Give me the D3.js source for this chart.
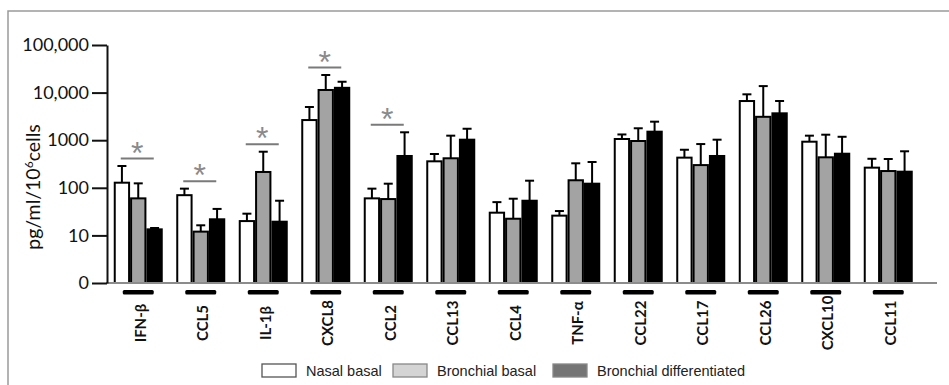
<!DOCTYPE html>
<html>
<head>
<meta charset="utf-8">
<script src="https://cdn.jsdelivr.net/npm/d3@7"></script>
<style>
    body { margin: 0; background: #fff; }
    svg { display: block; }
</style>
</head>
<body>
<div id="chart"></div>
<script>
const categories = ["IFN-β", "CCL5", "IL-1β", "CXCL8", "CCL2", "CCL13", "CCL4", "TNF-α", "CCL22", "CCL17", "CCL26", "CXCL10", "CCL11"];

// means and upper error bar ends, pg/ml/10^6 cells
const nasalBasal        = [128, 70, 20, 2650, 60, 360, 30, 26, 1060, 430, 6650, 930, 265];
const nasalBasalErr     = [287, 96, 28.6, 4980, 96, 513, 50, 32.5, 1320, 630, 9200, 1245, 407];
const bronchialBasal    = [60, 12, 215, 11350, 58, 417, 22.4, 144, 962, 300, 3100, 437, 225];
const bronchialBasalErr = [124, 16.3, 573, 23400, 122, 1245, 59, 327, 1780, 830, 13700, 1305, 403];
const bronchialDiff     = [13.4, 21.8, 19.4, 12600, 466, 1025, 53.5, 122, 1510, 466, 3670, 520, 218];
const bronchialDiffErr  = [14.3, 36, 53.5, 16900, 1466, 1740, 141, 348, 2450, 1025, 6660, 1180, 585];

const significant = ["IFN-β", "CCL5", "IL-1β", "CXCL8", "CCL2"];

const yTickValues = [1, 10, 100, 1000, 10000, 100000];
const yTickLabels = ["0", "10", "100", "1000", "10,000", "100,000"];

const seriesNames = ["Nasal basal", "Bronchial basal", "Bronchial differentiated"];

const width = 949, height = 385;
const barFills = ["#ffffff", "#a3a3a3", "#000000"];
const legendFills = ["#ffffff", "#d4d4d4", "#757575"];

const series = [
    {name: seriesNames[0], values: nasalBasal, err: nasalBasalErr},
    {name: seriesNames[1], values: bronchialBasal, err: bronchialBasalErr},
    {name: seriesNames[2], values: bronchialDiff, err: bronchialDiffErr}
];

let svg = d3.select("#chart")
    .append("svg")
    .attr("width", width)
    .attr("height", height);

// figure frame (top + left edges visible)
svg.append("path")
    .attr("d", "M8,385 L8,11 L949,11")
    .attr("fill", "none")
    .attr("stroke", "#9a9a9a")
    .attr("stroke-width", 1.5);

let x = d3.scaleBand()
    .domain(categories)
    .range([107, 919.5]);

let xSub = d3.scaleBand()
    .domain(d3.range(series.length))
    .range([-24.5, 24.5]);

let y = d3.scaleLog()
    .domain([1, 100000])
    .range([283, 45]);

// bars
categories.forEach(function (c, i) {
    let g = svg.append("g")
        .attr("transform", "translate(" + (x(c) + x.bandwidth() / 2) + ",0)");

    series.forEach(function (s, k) {
        let bx = xSub(k);
        let bw = xSub.bandwidth();
        let cx = bx + bw / 2;

        g.append("line")
            .attr("x1", cx).attr("x2", cx)
            .attr("y1", y(s.values[i])).attr("y2", y(s.err[i]))
            .attr("stroke", "#000")
            .attr("stroke-width", 2);

        g.append("line")
            .attr("x1", cx - 4.5).attr("x2", cx + 4.5)
            .attr("y1", y(s.err[i])).attr("y2", y(s.err[i]))
            .attr("stroke", "#000")
            .attr("stroke-width", 2);

        g.append("rect")
            .attr("x", bx + 1)
            .attr("y", y(s.values[i]))
            .attr("width", bw - 2)
            .attr("height", y(1) - y(s.values[i]))
            .attr("fill", barFills[k])
            .attr("stroke", "#000")
            .attr("stroke-width", 2);
    });

    // significance bracket
    if (significant.indexOf(c) >= 0) {
        let top = d3.min(series, s => y(s.err[i])) - 7.5;
        g.append("line")
            .attr("x1", -17.5).attr("x2", 15.5)
            .attr("y1", top).attr("y2", top)
            .attr("stroke", "#7a7a7a")
            .attr("stroke-width", 2);
        g.append("text")
            .attr("x", -1)
            .attr("y", top + 5)
            .attr("text-anchor", "middle")
            .attr("fill", "#8a8a8a")
            .style("font-family", "Liberation Sans, sans-serif")
            .style("font-size", "32px")
            .text("*");
    }

    // black marker under each group
    g.append("rect")
        .attr("x", -15.5)
        .attr("y", 290)
        .attr("width", 31)
        .attr("height", 4.5)
        .attr("rx", 1.5)
        .attr("fill", "#000");
});

// x baseline
svg.append("line")
    .attr("x1", 106).attr("x2", 937)
    .attr("y1", y(1)).attr("y2", y(1))
    .attr("stroke", "#8c8c8c")
    .attr("stroke-width", 2);

// y axis
let yAxis = svg.append("g")
    .attr("transform", "translate(107,0)")
    .call(d3.axisLeft(y)
        .tickValues(yTickValues)
        .tickFormat((d, i) => yTickLabels[i])
        .tickSize(15)
        .tickSizeOuter(0)
        .tickPadding(3));

yAxis.select(".domain").attr("stroke", "#111").attr("stroke-width", 2);
yAxis.selectAll(".tick line").attr("stroke", "#111").attr("stroke-width", 2);
yAxis.selectAll(".tick text")
    .attr("fill", "#111")
    .style("font-family", "Lato, sans-serif")
    .style("font-size", "18px");

// category labels
let xAxis = svg.append("g")
    .attr("transform", "translate(0," + y(1) + ")")
    .call(d3.axisBottom(x).tickSize(0));

xAxis.select(".domain").remove();
xAxis.selectAll(".tick text")
    .attr("transform", "rotate(-90)")
    .attr("x", -40)
    .attr("y", 2)
    .attr("dy", "0.35em")
    .attr("text-anchor", "middle")
    .attr("fill", "#111")
    .style("font-family", "Lato, sans-serif")
    .style("font-weight", "bold")
    .style("font-size", "15px");

// y label
svg.append("text")
    .attr("transform", "translate(40,187) rotate(-90)")
    .attr("text-anchor", "middle")
    .attr("fill", "#111")
    .style("font-family", "Lato, sans-serif")
    .style("font-size", "19.5px")
    .html("pg/ml/10<tspan baseline-shift='super' font-size='12px'>6</tspan>cells");

// legend
const legendX = [262, 393, 553];
let legend = svg.append("g");
seriesNames.forEach(function (name, k) {
    legend.append("rect")
        .attr("x", legendX[k])
        .attr("y", 364)
        .attr("width", 34)
        .attr("height", 13)
        .attr("fill", legendFills[k])
        .attr("stroke", k == 0 ? "#555" : "#888")
        .attr("stroke-width", 1.3);
    legend.append("text")
        .attr("x", legendX[k] + 44)
        .attr("y", 376)
        .attr("fill", "#222")
        .style("font-family", "Liberation Sans, sans-serif")
        .style("font-size", "14.5px")
        .text(name);
});
</script>
</body>
</html>
